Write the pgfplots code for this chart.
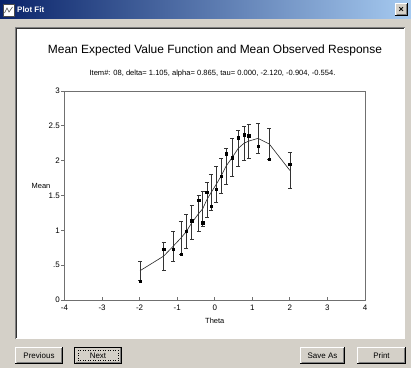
\documentclass[border=0pt]{standalone}
\usepackage{fontspec}
\setmainfont{Liberation Sans}
\usepackage{pgfplots}
\pgfplotsset{compat=1.18}
\usepackage{pgfplotstable}
\pgfplotstableread{
t e h o
-1.99 0.42 0.14 0.27
-1.36 0.63 0.20 0.73
-1.11 0.77 0.21 0.73
-0.90 0.89 0.24 0.655
-0.76 0.98 0.245 0.99
-0.61 1.11 0.245 1.14
-0.43 1.24 0.255 1.43
-0.32 1.31 0.255 1.11
-0.21 1.44 0.25 1.55
-0.10 1.54 0.26 1.35
0.04 1.66 0.255 1.59
0.17 1.78 0.25 1.78
0.30 1.92 0.26 2.10
0.47 2.05 0.27 2.04
0.63 2.18 0.26 2.33
0.78 2.25 0.245 2.37
0.90 2.28 0.245 2.36
1.15 2.32 0.22 2.21
1.45 2.24 0.225 2.02
2.00 1.86 0.26 1.95
}\fitdata
\definecolor{winbg}{HTML}{D4D0C8}
\definecolor{tbdark}{HTML}{0A246A}
\definecolor{tblight}{HTML}{A6CAF0}
\definecolor{axgray}{HTML}{707070}
\definecolor{btnshadow}{HTML}{808080}
\newcommand{\winbutton}[5]{%
  \fill[winbg] (#1,#2) rectangle (#3,#4);
  \draw[white,line width=1bp] (#1+0.5,#2+0.5) -- (#1+0.5,#4-0.5) -- (#3-0.5,#4-0.5);
  \draw[black,line width=1bp] (#1,#2+0.5) -- (#3-0.5,#2+0.5) -- (#3-0.5,#4);
  \draw[btnshadow,line width=1bp] (#1+1.5,#2+1.5) -- (#3-1.5,#2+1.5) -- (#3-1.5,#4-1);
  \node[font=\fontsize{8}{9}\selectfont] at ({(#1+#3)/2},{(#2+#4)/2}) {#5};}
\begin{document}
\begin{tikzpicture}[x=1bp,y=1bp]
% window background
\fill[winbg] (0,0) rectangle (411,368);
% title bar
\shade[left color=tbdark,right color=tblight] (0,349) rectangle (411,368);
\fill[white] (3,352) rectangle (14,364);
\draw[black!70,line width=0.6bp] (3,352) rectangle (14,364);
\draw[black!70,line width=0.6bp] (4.5,355) -- (7,360) -- (9,356) -- (12.5,361);
\node[anchor=west,text=white,font=\bfseries\fontsize{8}{9}\selectfont,inner sep=0pt] at (17,358.5) {Plot Fit};
\winbutton{395}{352}{408}{365}{}
\node[font=\bfseries\fontsize{9}{9}\selectfont,inner sep=0pt] at (401.3,358.6) {×};
% white panel
\fill[white] (15,29) rectangle (405,341);
\draw[btnshadow,line width=1bp] (15.5,29) -- (15.5,340.5) -- (405,340.5);
\draw[black!80,line width=1bp] (16.5,30) -- (16.5,339.5) -- (404,339.5);
% title texts
\node[font=\fontsize{12}{14}\selectfont] at (215,318) {Mean Expected Value Function and Mean Observed Response};
\node[font=\fontsize{7.6}{8.5}\selectfont] at (212.5,294) {Item\#: 08, delta= 1.105, alpha= 0.865, tau= 0.000, -2.120, -0.904, -0.554.};
% buttons
\winbutton{15}{4}{63}{21}{Previous}
\winbutton{74}{4}{122}{21}{Next}
\draw[black,line width=1bp] (74.5,4.5) rectangle (121.5,20.5);
\draw[black,line width=0.5bp,dotted] (78,7.5) rectangle (118,17.5);
\winbutton{300}{4}{345}{21}{Save As}
\winbutton{357}{4}{406}{21}{Print}
% the plot
\begin{axis}[
  at={(64.5bp,68bp)}, anchor=south west,
  scale only axis, width=300.5bp, height=209bp,
  xmin=-4, xmax=4, ymin=0, ymax=3,
  axis line style={axgray, line width=0.8bp},
  tick style={axgray, line width=0.8bp},
  major tick length=3bp,
  tick pos=left,
  xtick align=inside, ytick align=outside,
  xtick={-4,-3,-2,-1,0,1,2,3,4},
  xticklabels={-4,-3,-2,-1,0,1,2,3,4},
  ytick={0,0.5,1,1.5,2,2.5,3},
  yticklabels={0,.5,1,1.5,2,2.5,3},
  ticklabel style={font=\fontsize{8}{9}\selectfont},
  xticklabel style={yshift=-1bp},
  yticklabel style={inner sep=1.5bp},
  xlabel={Theta},
  ylabel={Mean},
  label style={font=\fontsize{7.5}{8}\selectfont},
  xlabel style={at={(axis description cs:0.5,0)}, anchor=center, yshift=-21bp},
  ylabel style={at={(axis description cs:0,0.545)}, rotate=-90, anchor=center, xshift=-23.5bp},
  clip=false,
]
\addplot[black!85, line width=0.6bp, mark=none,
  error bars/.cd, y dir=both, y explicit,
  error bar style={black!80, line width=0.7bp},
  error mark options={black!80, line width=0.7bp, mark size=2bp, rotate=90}]
  table[x=t, y=e, y error=h] {\fitdata};
\addplot[only marks, mark=square*, mark size=1.2bp, black]
  table[x=t, y=o] {\fitdata};
\end{axis}
\end{tikzpicture}
\end{document}
